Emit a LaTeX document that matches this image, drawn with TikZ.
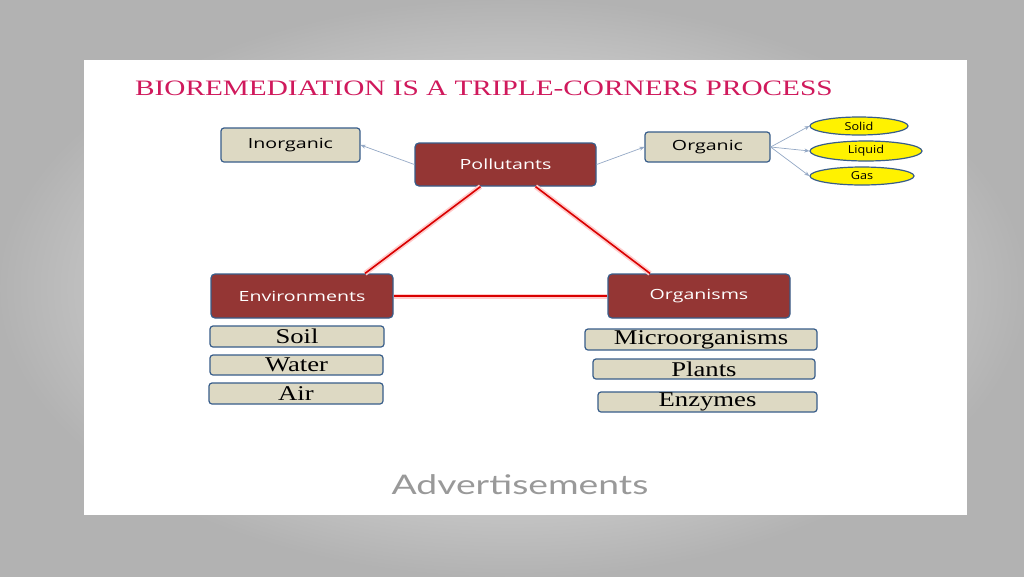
\documentclass[tikz,border=0pt]{standalone}
\usepackage{fontspec}
\setmainfont{Liberation Serif}
\setsansfont{Open Sans}
\newfontfamily\lato{Lato}
\usetikzlibrary{shapes.geometric,arrows.meta}
\definecolor{tred}{HTML}{943634}
\definecolor{beige}{HTML}{DDD9C3}
\definecolor{bord}{HTML}{385D8A}
\definecolor{ttl}{HTML}{D0195C}
\definecolor{arr}{HTML}{95A9C6}
\newcommand{\sx}[2]{\scalebox{#1}[1]{#2}}
\newcommand{\sxd}[2]{\raisebox{-2pt}{\scalebox{#1}[1]{#2}}}
\tikzset{
 redbox/.style={draw=bord,line width=1.2pt,fill=tred,rounded corners=4pt,text=white,font=\sffamily\fontsize{14}{16}\selectfont,inner sep=0pt},
 bbox/.style={draw=bord,line width=1.2pt,fill=beige,rounded corners=3pt,font=\sffamily\fontsize{14}{16}\selectfont,inner sep=0pt},
 sbox/.style={draw=bord,line width=1.2pt,fill=beige,rounded corners=3pt,font=\fontsize{21}{22}\selectfont,inner sep=0pt},
 ell/.style={ellipse,draw=bord,line width=1.2pt,fill=yellow,font=\sffamily\fontsize{11}{12}\selectfont,inner sep=0pt},
 tarr/.style={draw=arr,line width=0.7pt,-{Stealth[length=5pt,width=4pt]}},
 rline/.style={draw=red!85!black,line width=1.6pt,preaction={draw=red!20,line width=5pt}},
}
\begin{document}
\begin{tikzpicture}[x=1pt,y=-1pt]
\shade[inner color=white,outer color=black!30] (0,0) rectangle (1024,576);
\useasboundingbox (0,0) rectangle (1024,576);
\fill[white] (84,60) rectangle (967,515);
\node[anchor=west,text=ttl,font=\fontsize{22}{24}\selectfont,inner sep=0pt] (title) at (135,88) {\sx{1.33}{BIOREMEDIATION IS A TRIPLE-CORNERS PROCESS}};
\node[bbox,minimum width=139pt,minimum height=34pt] (inorg) at (290.5,145) {\sxd{1.4}{Inorganic}};
\node[redbox,minimum width=181pt,minimum height=43pt] (poll) at (505.5,164.5) {\sxd{1.4}{Pollutants}};
\node[bbox,minimum width=125pt,minimum height=30pt] (org) at (707.5,147) {\sxd{1.4}{Organic}};
\node[ell,minimum width=98pt,minimum height=18pt] (solid) at (859,126) {\sxd{1.15}{Solid}};
\node[ell,minimum width=112pt,minimum height=20pt] (liquid) at (866,151) {\sxd{1.15}{Liquid}};
\node[ell,minimum width=104pt,minimum height=18pt] (gas) at (862,176) {\sxd{1.15}{Gas}};
\node[redbox,minimum width=182pt,minimum height=44pt] (env) at (302,296) {\sxd{1.4}{Environments}};
\node[redbox,minimum width=182pt,minimum height=44pt] (orgs) at (699,296) {\sxd{1.4}{Organisms}};
\node[sbox,minimum width=174pt,minimum height=21pt] (soil) at (297,336.5) {\sx{1.27}{Soil}};
\node[sbox,minimum width=173pt,minimum height=20pt] (water) at (296.5,365) {\sx{1.27}{Water}};
\node[sbox,minimum width=174pt,minimum height=21pt] (air) at (296,393.5) {\sx{1.27}{Air}};
\node[sbox,minimum width=232pt,minimum height=21pt] (micro) at (701,339.5) {\sx{1.27}{Microorganisms}};
\node[sbox,minimum width=222pt,minimum height=20pt] (plants) at (704,369) {\sx{1.27}{Plants}};
\node[sbox,minimum width=219pt,minimum height=20pt] (enz) at (707.5,402) {\sx{1.27}{Enzymes}};
\node[text=black!40,font=\lato\fontsize{27}{30}\selectfont] (adv) at (520,485) {\sx{1.38}{Advertisements}};
\draw[tarr] (poll.west) -- (inorg.east);
\draw[tarr] (poll.east) -- (org.west);
\draw[tarr] (org.east) -- (solid.west);
\draw[tarr] (org.east) -- (liquid.west);
\draw[tarr] (org.east) -- (gas.west);
\draw[rline] ([xshift=-25pt]poll.south) -- ([xshift=63pt]env.north);
\draw[rline] ([xshift=30pt]poll.south) -- ([xshift=-49pt]orgs.north);
\draw[rline] (env.east) -- (orgs.west);
\end{tikzpicture}
\end{document}
